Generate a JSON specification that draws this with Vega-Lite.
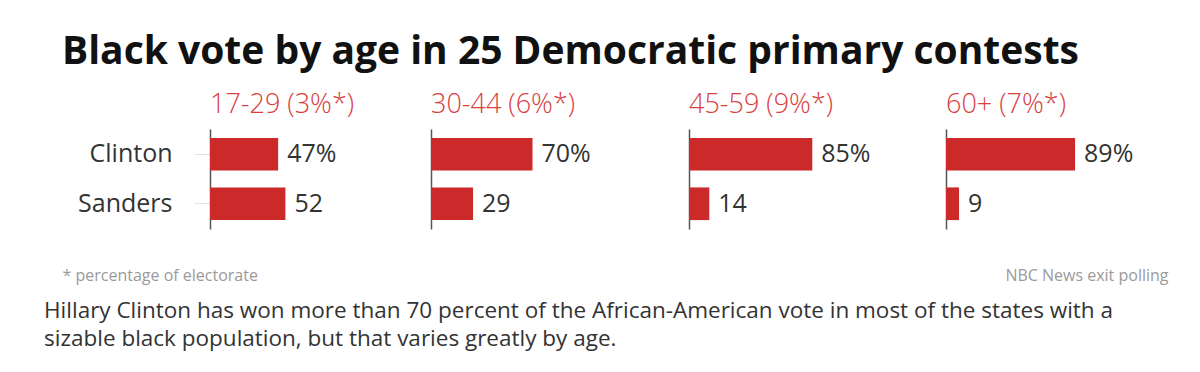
{
  "$schema": "https://vega.github.io/schema/vega-lite/v6.json",
  "background": "white",
  "padding": {"left": 44, "top": 33, "right": 5, "bottom": 5},
  "config": {
    "view": {"stroke": null},
    "font": "Open Sans",
    "concat": {"spacing": 0}
  },
  "title": {
    "text": "Black vote by age in 25 Democratic primary contests",
    "anchor": "start",
    "frame": "bounds",
    "dx": 18,
    "font": "Open Sans",
    "fontSize": 39,
    "fontWeight": "bold",
    "color": "#111111",
    "offset": 19
  },
  "data": {
    "values": [
      {"age": "17-29", "candidate": "Clinton", "pct": 47, "label": "47%"},
      {"age": "17-29", "candidate": "Sanders", "pct": 52, "label": "52"},
      {"age": "30-44", "candidate": "Clinton", "pct": 70, "label": "70%"},
      {"age": "30-44", "candidate": "Sanders", "pct": 29, "label": "29"},
      {"age": "45-59", "candidate": "Clinton", "pct": 85, "label": "85%"},
      {"age": "45-59", "candidate": "Sanders", "pct": 14, "label": "14"},
      {"age": "60+", "candidate": "Clinton", "pct": 89, "label": "89%"},
      {"age": "60+", "candidate": "Sanders", "pct": 9, "label": "9"}
    ]
  },
  "vconcat": [
    {
      "title": {
        "text": ["Hillary Clinton has won more than 70 percent of the African-American vote in most of the states with a", "sizable black population, but that varies greatly by age."],
        "orient": "bottom",
        "anchor": "start",
        "frame": "bounds",
        "dx": -18,
        "font": "Open Sans",
        "fontSize": 22.5,
        "fontWeight": "normal",
        "color": "#333333",
        "lineHeight": 28,
        "offset": 17
      },
      "hconcat": [
        {
          "width": 221, "height": 100,
          "title": {"text": "17-29 (3%*)", "anchor": "start", "frame": "group", "color": "#d9403f", "fontSize": 27, "fontWeight": 300, "offset": 10},
          "transform": [{"filter": "datum.age == '17-29'"}],
          "encoding": {
            "y": {"field": "candidate", "type": "nominal", "sort": ["Clinton", "Sanders"],
              "scale": {"paddingInner": 0.34, "paddingOuter": 0.18},
              "axis": {"title": null, "labelFontSize": 25, "labelColor": "#333333", "labelPadding": 22, "tickColor": "#e0e0e0", "tickSize": 16, "domainColor": "#555555", "domainWidth": 1.5}},
            "x": {"field": "pct", "type": "quantitative", "scale": {"domain": [0, 152.4], "nice": false},
              "axis": {"title": "* percentage of electorate", "labels": false, "ticks": false, "domain": false, "grid": false, "titleAnchor": "start", "titleX": -148, "titleFontSize": 16, "titleFontWeight": "normal", "titleColor": "#9a9a9a", "titlePadding": 38}}
          },
          "layer": [
            {"mark": {"type": "bar", "color": "#cc2a2a"}},
            {"mark": {"type": "text", "align": "left", "baseline": "middle", "dx": 9, "fontSize": 25, "color": "#333333"}, "encoding": {"text": {"field": "label"}}}
          ]
        },
        {
          "width": 258, "height": 100,
          "title": {"text": "30-44 (6%*)", "anchor": "start", "frame": "group", "color": "#d9403f", "fontSize": 27, "fontWeight": 300, "offset": 10},
          "transform": [{"filter": "datum.age == '30-44'"}],
          "encoding": {
            "y": {"field": "candidate", "type": "nominal", "sort": ["Clinton", "Sanders"],
              "scale": {"paddingInner": 0.34, "paddingOuter": 0.18},
              "axis": {"title": null, "labels": false, "ticks": false, "domainColor": "#555555", "domainWidth": 1.5}},
            "x": {"field": "pct", "type": "quantitative", "scale": {"domain": [0, 177.9], "nice": false}, "axis": null}
          },
          "layer": [
            {"mark": {"type": "bar", "color": "#cc2a2a"}},
            {"mark": {"type": "text", "align": "left", "baseline": "middle", "dx": 9, "fontSize": 25, "color": "#333333"}, "encoding": {"text": {"field": "label"}}}
          ]
        },
        {
          "width": 257, "height": 100,
          "title": {"text": "45-59 (9%*)", "anchor": "start", "frame": "group", "color": "#d9403f", "fontSize": 27, "fontWeight": 300, "offset": 10},
          "transform": [{"filter": "datum.age == '45-59'"}],
          "encoding": {
            "y": {"field": "candidate", "type": "nominal", "sort": ["Clinton", "Sanders"],
              "scale": {"paddingInner": 0.34, "paddingOuter": 0.18},
              "axis": {"title": null, "labels": false, "ticks": false, "domainColor": "#555555", "domainWidth": 1.5}},
            "x": {"field": "pct", "type": "quantitative", "scale": {"domain": [0, 177.2], "nice": false}, "axis": null}
          },
          "layer": [
            {"mark": {"type": "bar", "color": "#cc2a2a"}},
            {"mark": {"type": "text", "align": "left", "baseline": "middle", "dx": 9, "fontSize": 25, "color": "#333333"}, "encoding": {"text": {"field": "label"}}}
          ]
        },
        {
          "width": 200, "height": 100,
          "title": {"text": "60+ (7%*)", "anchor": "start", "frame": "group", "color": "#d9403f", "fontSize": 27, "fontWeight": 300, "offset": 10},
          "transform": [{"filter": "datum.age == '60+'"}],
          "encoding": {
            "y": {"field": "candidate", "type": "nominal", "sort": ["Clinton", "Sanders"],
              "scale": {"paddingInner": 0.34, "paddingOuter": 0.18},
              "axis": {"title": null, "labels": false, "ticks": false, "domainColor": "#555555", "domainWidth": 1.5}},
            "x": {"field": "pct", "type": "quantitative", "scale": {"domain": [0, 137.9], "nice": false},
              "axis": {"title": "NBC News exit polling", "labels": false, "ticks": false, "domain": false, "grid": false, "titleAnchor": "end", "titleX": 222, "titleAlign": "right", "titleFontSize": 16, "titleFontWeight": "normal", "titleColor": "#9a9a9a", "titlePadding": 38}}
          },
          "layer": [
            {"mark": {"type": "bar", "color": "#cc2a2a"}},
            {"mark": {"type": "text", "align": "left", "baseline": "middle", "dx": 9, "fontSize": 25, "color": "#333333"}, "encoding": {"text": {"field": "label"}}}
          ]
        }
      ]
    }
  ]
}
